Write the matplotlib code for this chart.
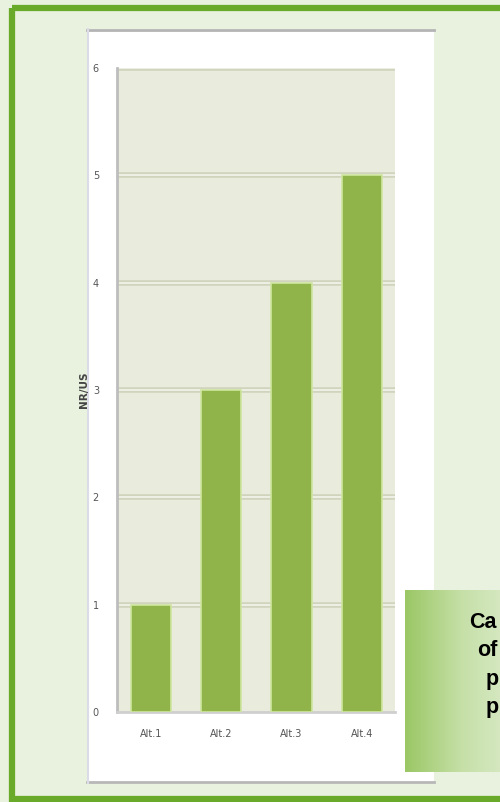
import matplotlib.pyplot as plt
from matplotlib.patches import Rectangle
from matplotlib.colors import LinearSegmentedColormap
import numpy as np

categories = ["Alt.1", "Alt.2", "Alt.3", "Alt.4"]
values = [1, 3, 4, 5]
y_ticks = [0, 1, 2, 3, 4, 5, 6]
y_label = "NR/US"
box_lines = ["Ca", "of", "p", "p"]

W, H = 500, 802
fig = plt.figure(figsize=(W / 100, H / 100), dpi=100)
fig.patch.set_facecolor("#e8f2de")

def px(x0, y0, x1, y1):
    # pixel box (top-left origin) -> figure fraction rect
    return [x0 / W, 1 - y1 / H, (x1 - x0) / W, (y1 - y0) / H]

# outer green frame
bg = fig.add_axes([0, 0, 1, 1])
bg.axis("off")
bg.add_patch(Rectangle((11.5, 7.5), 500, 791, fill=False, edgecolor="#6aaa2a", lw=4.5))
# white chart panel
bg.add_patch(Rectangle((87, 29), 347, 754, facecolor="white", edgecolor="none"))
bg.plot([87, 434], [30, 30], color="#b4b4b4", lw=2)
bg.plot([87, 434], [782, 782], color="#b8b8b8", lw=2)
bg.plot([88, 88], [29, 783], color="#dcdce8", lw=1.5)

# callout box with gradient
grad = np.linspace(0, 1, 256).reshape(1, -1)
cm = LinearSegmentedColormap.from_list("g", ["#9bc765", "#c6e0a8", "#dcebcc"])
bg.imshow(grad, cmap=cm, extent=(405, 520, 772, 590), aspect="auto", zorder=2)
for i, t in enumerate(box_lines):
    x = [469, 477, 486, 486][i]
    bg.text(x, 623 + i * 28, t, fontsize=15.5, fontweight="bold", color="black",
            va="center", ha="left", family="Liberation Sans", zorder=3)
bg.set_xlim(0, W)
bg.set_ylim(H, 0)

# bar chart
ax = fig.add_axes(px(117, 68, 395, 712))
ax.set_facecolor("#e9ebdc")
x = np.arange(len(categories))
ax.bar(x, values, width=0.57, color="#91b44a", edgecolor="#cfe6a0", lw=1.2, zorder=3)
ax.set_xlim(-0.48, 3.47)
ax.set_ylim(0, 6)
ax.set_yticks(y_ticks)
ax.set_xticks(x)
ax.set_xticklabels(categories)
for v in y_ticks[1:]:
    ax.axhline(v, color="#d0d4bd", lw=4, zorder=1)
    ax.axhline(v, color="#f4f5ec", lw=1.2, zorder=1.5)
ax.tick_params(axis="both", length=0, labelsize=7, labelcolor="#555555")
ax.tick_params(axis="y", pad=13)
ax.tick_params(axis="x", pad=12)
for s in ["top", "right"]:
    ax.spines[s].set_visible(False)
ax.spines["left"].set_color("#bdbdbd")
ax.spines["left"].set_linewidth(2)
ax.spines["bottom"].set_color("#cfcfcf")
ax.spines["bottom"].set_linewidth(2)
ax.set_ylabel(y_label, fontsize=7.5, fontweight="bold", color="#444444")
ax.yaxis.set_label_coords(-0.1, 0.5)

fig.savefig("out.png", dpi=100, facecolor=fig.get_facecolor())
